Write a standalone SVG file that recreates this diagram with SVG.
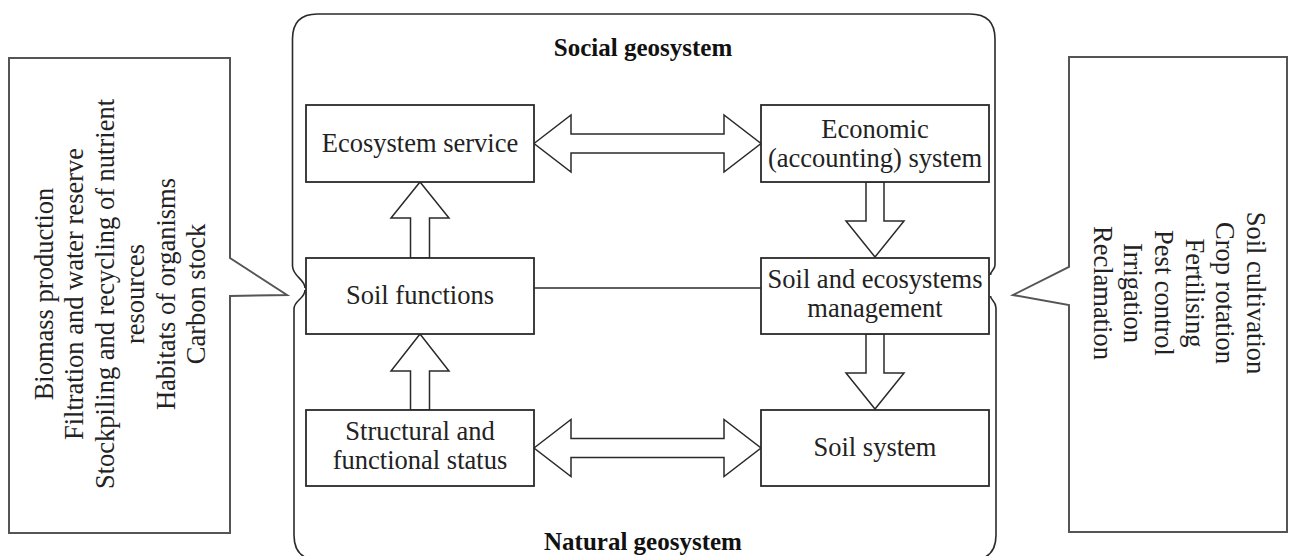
<svg xmlns="http://www.w3.org/2000/svg" width="1293" height="556" viewBox="0 0 1293 556">
<style>
.bg{fill:#fff}
.box{fill:#fff;stroke:#2a2a2a;stroke-width:1.8}
.outer{fill:none;stroke:#2a2a2a;stroke-width:1.6}
.callout{fill:#fff;stroke:#555;stroke-width:2}
.arrow{fill:#fff;stroke:#2a2a2a;stroke-width:1.5;stroke-linejoin:miter}
.line{stroke:#2a2a2a;stroke-width:1.6;fill:none}
.t{font-family:"Liberation Serif","Times New Roman",serif;font-size:26.5px;fill:#222;text-anchor:middle}
.tb{font-family:"Liberation Serif","Times New Roman",serif;font-size:25px;font-weight:bold;fill:#111;text-anchor:middle}
</style>
<rect class="bg" x="0" y="0" width="1293" height="556"/>
<g id="social-geosystem">
<path class="outer" d="M292.5,266 L292.5,39 Q292.5,14 317.5,14 L970,14 Q995,14 995,39 L995,265 C995,270 990.5,271 990.5,275"/>
<path class="outer" d="M292.5,266 C293,277 305,279 305,288"/>
<text class="tb" x="643" y="56">Social geosystem</text>
</g>
<g id="natural-geosystem">
<path class="outer" d="M305,290 C305,299 294,300 294,309 L294,535 Q294,560 319,560 L971,560 Q996,560 996,535 L996,308 C996,301 990.5,300 990.5,296"/>
<text class="tb" x="643" y="550">Natural geosystem</text>
</g>
<g id="left-callout">
<path class="callout" d="M9,58 L230,58 L230,258 L287,295 L230,296 L230,533 L9,533 Z"/>
<g class="t">
<text class="t" transform="translate(53,294) rotate(-90)">Biomass production</text>
<text class="t" transform="translate(83.4,294) rotate(-90)">Filtration and water reserve</text>
<text class="t" transform="translate(113.8,294) rotate(-90)">Stockpiling and recycling of nutrient</text>
<text class="t" transform="translate(144.2,294) rotate(-90)">resources</text>
<text class="t" transform="translate(174.6,294) rotate(-90)">Habitats of organisms</text>
<text class="t" transform="translate(205,294) rotate(-90)">Carbon stock</text>
</g>
</g>
<g id="right-callout">
<path class="callout" d="M1069,57 L1287,57 L1287,532 L1069,532 L1069,305 L1013,295 L1069,267 Z"/>
<text class="t" transform="translate(1247,293) rotate(90)">Soil cultivation</text>
<text class="t" transform="translate(1216.3,293) rotate(90)">Crop rotation</text>
<text class="t" transform="translate(1185.6,293) rotate(90)">Fertilising</text>
<text class="t" transform="translate(1154.9,293) rotate(90)">Pest control</text>
<text class="t" transform="translate(1124.2,293) rotate(90)">Irrigation</text>
<text class="t" transform="translate(1093.5,293) rotate(90)">Reclamation</text>
</g>
<g id="connectors">
<polygon class="arrow" points="534,143.5 571,115 571,134 724,134 724,115 761,143.5 724,172 724,153 571,153 571,172"/>
<polygon class="arrow" points="534,448 571,419.5 571,438.5 724,438.5 724,419.5 761,448 724,476.5 724,457.5 571,457.5 571,476.5"/>
<polygon class="arrow" points="420,182 449,218 429.5,218 429.5,258 410.5,258 410.5,218 391,218"/>
<polygon class="arrow" points="420,334 449,371 429.5,371 429.5,410 410.5,410 410.5,371 391,371"/>
<polygon class="arrow" points="866,182 866,221 846,221 875,257 904,221 884,221 884,182"/>
<polygon class="arrow" points="866,334 866,373 846,373 875,409 904,373 884,373 884,334"/>
<line class="line" x1="534" y1="288" x2="761" y2="288"/>
</g>
<g id="ecosystem-service">
<rect class="box" x="306" y="105" width="228" height="77"/>
<text class="t" x="420" y="152">Ecosystem service</text>
</g>
<g id="soil-functions">
<rect class="box" x="306" y="258" width="228" height="76"/>
<text class="t" x="420" y="304">Soil functions</text>
</g>
<g id="structural-functional-status">
<rect class="box" x="306" y="410" width="228" height="76"/>
<text class="t" x="420" y="440">Structural and</text>
<text class="t" x="420" y="469">functional status</text>
</g>
<g id="economic-system">
<rect class="box" x="761" y="105" width="228" height="77"/>
<text class="t" x="875" y="138">Economic</text>
<text class="t" x="875" y="167">(accounting) system</text>
</g>
<g id="soil-ecosystems-management">
<rect class="box" x="761" y="258" width="228" height="76"/>
<text class="t" x="875" y="288">Soil and ecosystems</text>
<text class="t" x="875" y="317">management</text>
</g>
<g id="soil-system">
<rect class="box" x="761" y="410" width="228" height="76"/>
<text class="t" x="875" y="456">Soil system</text>
</g>
</svg>
